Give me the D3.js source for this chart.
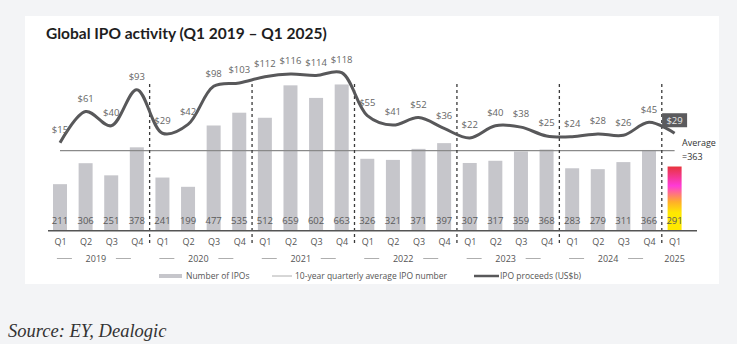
<!DOCTYPE html>
<html><head><meta charset="utf-8">
<script src="https://cdn.jsdelivr.net/npm/d3@7"></script>
<style>
html,body{margin:0;padding:0;background:#f3f4f6;}
svg{display:block;}
</style></head>
<body>
<script>
const quarters = ["Q1","Q2","Q3","Q4","Q1","Q2","Q3","Q4","Q1","Q2","Q3","Q4","Q1","Q2","Q3","Q4","Q1","Q2","Q3","Q4","Q1","Q2","Q3","Q4","Q1"];
const years = ["2019","2020","2021","2022","2023","2024","2025"];
const ipoCount = [211,306,251,378,241,199,477,535,512,659,602,663,326,321,371,397,307,317,359,368,283,279,311,366,291];
const proceeds = [15,61,40,93,29,42,98,103,112,116,114,118,55,41,52,36,22,40,38,25,24,28,26,45,29];
const averageIPO = 363;
const legendLabels = ["Number of IPOs","10-year quarterly average IPO number","IPO proceeds (US$b)"];

const W=737,H=344;
const svg=d3.select("body").append("svg").attr("width",W).attr("height",H);
const font="'Open Sans', 'Noto Sans', sans-serif";

// card
svg.append("rect").attr("x",25).attr("y",16).attr("width",694).attr("height",268).attr("fill","#fff");

svg.append("text").attr("x",46).attr("y",39).attr("font-family","Lato, 'Open Sans', sans-serif")
  .attr("font-weight","bold").attr("font-size",15.5).attr("fill","#1e1e1e")
  .text("Global IPO activity (Q1 2019 \u2013 Q1 2025)");

const keys=quarters.map((q,i)=>i);
const x=d3.scalePoint().domain(keys).range([60,674.6]);
const yBar=d3.scaleLinear().domain([0,700]).range([230.7,76.3]);
const yLine=d3.scaleLinear().domain([22,118]).range([138,72.7]);
const bw=14;

// gradient
const defs=svg.append("defs");
const g=defs.append("linearGradient").attr("id","grad").attr("x1",0).attr("y1",0).attr("x2",0).attr("y2",1);
[[0,"#e8343c"],[0.3,"#ff3ad8"],[0.55,"#ffae2a"],[0.72,"#ffe800"],[1,"#ffe800"]].forEach(s=>g.append("stop").attr("offset",s[0]).attr("stop-color",s[1]));

// bars
svg.selectAll("rect.bar").data(ipoCount).enter().append("rect").attr("class","bar")
  .attr("x",(d,i)=>x(i)-bw/2).attr("width",bw)
  .attr("y",d=>yBar(d)).attr("height",d=>yBar(0)-yBar(d))
  .attr("fill",(d,i)=>i===ipoCount.length-1?"url(#grad)":"#c6c6cb");

// bar value labels
svg.selectAll("text.bv").data(ipoCount).enter().append("text")
  .attr("x",(d,i)=>x(i)).attr("y",224).attr("text-anchor","middle")
  .attr("font-family",font).attr("font-size",9.5).attr("fill","#5a5a5a").text(d=>d);

// average line
svg.append("line").attr("x1",x(0)).attr("x2",x(24)).attr("y1",yBar(averageIPO)).attr("y2",yBar(averageIPO))
  .attr("stroke","#8a8a8a").attr("stroke-width",1.2);
svg.append("text").attr("x",682).attr("y",146).attr("font-family",font).attr("font-size",9).attr("fill","#333").text("Average");
svg.append("text").attr("x",682).attr("y",160).attr("font-family",font).attr("font-size",9).attr("fill","#333").text("="+averageIPO);

// dashed year separators
const seps=[3,7,11,15,19,23];
svg.selectAll("line.sep").data(seps).enter().append("line")
  .attr("x1",d=>(x(d)+x(d+1))/2).attr("x2",d=>(x(d)+x(d+1))/2)
  .attr("y1",84).attr("y2",246).attr("stroke","#3a3a3a").attr("stroke-width",1.3).attr("stroke-dasharray","3,3");

// proceeds line
const line=d3.line().x((d,i)=>x(i)).y(d=>yLine(d)).curve(d3.curveCatmullRom.alpha(0.5));
svg.append("path").datum(proceeds).attr("d",line).attr("fill","none").attr("stroke","#58585a").attr("stroke-width",3);

// proceeds labels
proceeds.forEach((d,i)=>{
  const last=i===proceeds.length-1;
  const cx=x(i), cy=yLine(d)-13;
  if(last){
    svg.append("rect").attr("x",cx-12.5).attr("y",cy-7).attr("width",25).attr("height",14).attr("fill","#5b5b5e");
  }
  svg.append("text").attr("x",cx).attr("y",cy+3.3).attr("text-anchor","middle")
    .attr("font-family",font).attr("font-size",9.5).attr("fill",last?"#e8e8e8":"#666").text("$"+d);
});

// axis
const axis=d3.axisBottom(x).tickSize(0).tickPadding(0).tickFormat(i=>quarters[i]);
const ax=svg.append("g").attr("transform","translate(0,230.7)").call(axis);
ax.select(".domain").remove();
ax.selectAll("text").attr("dy",0).attr("y",14.5).attr("font-family",font).attr("font-size",9).attr("fill","#555");
svg.append("line").attr("x1",48).attr("x2",697).attr("y1",230.7).attr("y2",230.7).attr("stroke","#555").attr("stroke-width",1.5);

// year labels
years.forEach((yr,k)=>{
  const i0=k*4, i1=Math.min(k*4+3,quarters.length-1);
  const full=i1-i0===3;
  const c=full?(x(i0)+x(i1))/2-2.5:x(i0);
  svg.append("text").attr("x",c).attr("y",262).attr("text-anchor","middle").attr("font-family",font)
    .attr("font-size",9).attr("fill","#555").text(yr);
  if(full){
    [[c-39,c-24],[c+20,c+35]].forEach(s=>svg.append("line").attr("x1",s[0]).attr("x2",s[1]).attr("y1",258.5).attr("y2",258.5).attr("stroke","#999").attr("stroke-width",0.8));
  }
});

// legend
const ly=276;
svg.append("rect").attr("x",159).attr("y",ly-2).attr("width",23).attr("height",4).attr("fill","#c6c6cb");
svg.append("text").attr("x",186).attr("y",ly+3).attr("font-family",font).attr("font-size",8.5).attr("fill","#555").text(legendLabels[0]);
svg.append("line").attr("x1",272).attr("x2",292).attr("y1",ly).attr("y2",ly).attr("stroke","#999").attr("stroke-width",0.8);
svg.append("text").attr("x",295).attr("y",ly+3).attr("font-family",font).attr("font-size",8.5).attr("fill","#555").text(legendLabels[1]);
svg.append("line").attr("x1",474).attr("x2",499).attr("y1",ly).attr("y2",ly).attr("stroke","#58585a").attr("stroke-width",2.5);
svg.append("text").attr("x",500).attr("y",ly+3).attr("font-family",font).attr("font-size",8.5).attr("fill","#555").text(legendLabels[2]);

// source
svg.append("text").attr("x",8).attr("y",337).attr("font-family","'Liberation Serif', 'DejaVu Serif', serif")
  .attr("font-style","italic").attr("font-size",18.5).attr("fill","#333").text("Source: EY, Dealogic");
</script>
</body></html>
